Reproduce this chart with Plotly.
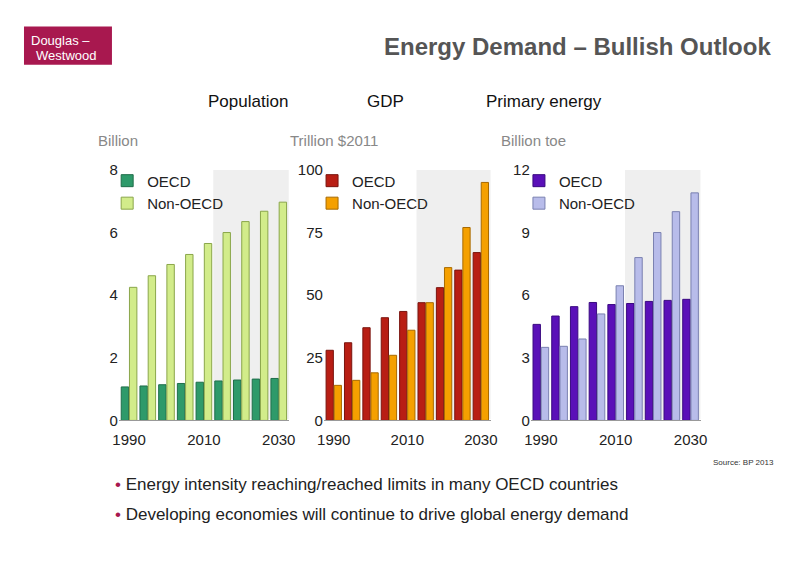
import plotly.graph_objects as go

years = [1990, 1995, 2000, 2005, 2010, 2015, 2020, 2025, 2030]

pop_oecd = [1.07, 1.10, 1.14, 1.18, 1.22, 1.26, 1.29, 1.32, 1.34]
pop_non = [4.25, 4.62, 4.98, 5.30, 5.65, 6.00, 6.35, 6.68, 6.97]

gdp_oecd = [28, 31, 37, 41, 43.5, 47, 53, 60, 67]
gdp_non = [14, 16, 19, 26, 36, 47, 61, 77, 95]

energy_oecd = [4.6, 5.0, 5.45, 5.65, 5.55, 5.6, 5.7, 5.75, 5.8]
energy_non = [3.5, 3.55, 3.9, 5.1, 6.45, 7.8, 9.0, 10.0, 10.9]

panels = [
    ("Population", "Billion", pop_oecd, pop_non, "#2e9a6a", "#d2ec8a", 8, [0, 2, 4, 6, 8]),
    ("GDP", "Trillion $2011", gdp_oecd, gdp_non, "#b81e14", "#f5a000", 100, [0, 25, 50, 75, 100]),
    ("Primary energy", "Billion toe", energy_oecd, energy_non, "#5a10b8", "#b8bcea", 12, [0, 3, 6, 9, 12]),
]
edges = ["#1f6e4a", "#7a140e", "#3a0a80"]
edges2 = ["#8aa64a", "#a86a00", "#7a80b0"]

W, H = 800, 566


# screen pixel positions -> paper fractions (corrects for page offset seen in render)
def px(x):
    return ((x - 14) / 0.983) / W


def py(y):
    return 1 - ((y - 17.4) / 0.968) / H


# annotations land a little differently, so correct them again
def pya(y):
    return py((y - 17.8) / 0.9405)


xdom = [(118, 288), (323, 490), (530, 700)]
titles_x = [205, 385, 603]
units_x = [95, 287, 498]
y0, y1 = 420, 170

fig = go.Figure()
for i, (title, unit, oecd, non, c1, c2, ymax, ticks) in enumerate(panels):
    n = "" if i == 0 else str(i + 1)
    lg = "legend" + n
    fig.add_trace(go.Bar(x=years, y=oecd, name="OECD", marker=dict(color=c1, line=dict(color=edges[i], width=1)),
                         xaxis="x" + n, yaxis="y" + n, legend=lg))
    fig.add_trace(go.Bar(x=years, y=non, name="Non-OECD", marker=dict(color=c2, line=dict(color=edges2[i], width=1)),
                         xaxis="x" + n, yaxis="y" + n, legend=lg))
    dom = [px(xdom[i][0]), px(xdom[i][1])]
    fig.layout["xaxis" + n] = dict(domain=dom, range=[1987.3, 2032.7], tickvals=[1990, 2010, 2030],
                                   showgrid=False, showline=True, linecolor="#999", ticks="outside",
                                   ticklen=6, tickcolor="rgba(0,0,0,0)",
                                   tickfont=dict(size=15, color="#222"), anchor="y" + n)
    fig.layout["yaxis" + n] = dict(domain=[py(y0), py(y1)], range=[0, ymax], tickvals=ticks,
                                   showgrid=False, showline=False, ticks="",
                                   tickfont=dict(size=15, color="#222"), anchor="x" + n)
    fig.layout[lg] = dict(x=dom[0] - 0.015, y=py(y1) + 0.01, xanchor="left", yanchor="top",
                          bgcolor="rgba(0,0,0,0)", font=dict(size=15, color="#222"),
                          itemwidth=30, tracegroupgap=0)
    fig.add_shape(type="rect", xref="x" + n, yref="y" + n, x0=2012.5, x1=2032.7, y0=0, y1=ymax,
                  fillcolor="#efefef", line=dict(width=0), layer="below")
    fig.add_annotation(x=px(titles_x[i]), y=pya(103), xref="paper", yref="paper",
                       text=title, showarrow=False, font=dict(size=17, color="#111"))
    fig.add_annotation(x=px(units_x[i]), y=pya(140), xref="paper", yref="paper", xanchor="left",
                       text=unit, showarrow=False, font=dict(size=15, color="#888"))

fig.add_shape(type="rect", xref="paper", yref="paper", x0=px(23), x1=px(111), y0=py(65), y1=py(27),
              fillcolor="#a8184f", line=dict(width=0))
fig.add_annotation(x=px(28), y=pya(47), xref="paper", yref="paper", xanchor="left", showarrow=False,
                   text="Douglas –", font=dict(size=13, color="white"))
fig.add_annotation(x=px(33), y=pya(61), xref="paper", yref="paper", xanchor="left", showarrow=False,
                   text="Westwood", font=dict(size=13, color="white"))
fig.add_annotation(x=px(772), y=pya(47), xref="paper", yref="paper", xanchor="right", showarrow=False,
                   text="<b>Energy Demand – Bullish Outlook</b>",
                   font=dict(size=24, color="#555", family="Liberation Sans Narrow, Liberation Sans"))
fig.add_annotation(x=px(775), y=pya(458), xref="paper", yref="paper", xanchor="right", showarrow=False,
                   text="Source: BP 2013", font=dict(size=8, color="#333"))
bullets = ["Energy intensity reaching/reached limits in many OECD countries",
           "Developing economies will continue to drive global energy demand"]
for k, b in enumerate(bullets):
    fig.add_annotation(x=px(112), y=pya(484 + 28 * k), xref="paper", yref="paper", xanchor="left",
                       showarrow=False, text="<span style='color:#a8184f'>•</span> " + b,
                       font=dict(size=17, color="#222", family="Liberation Sans"))

fig.update_layout(width=W, height=H, margin=dict(l=0, r=0, t=0, b=0), barmode="group",
                  bargap=0.12, bargroupgap=0.1, plot_bgcolor="white", paper_bgcolor="white",
                  font=dict(family="Liberation Sans Narrow, Liberation Sans"))
fig.write_html("out.html")
